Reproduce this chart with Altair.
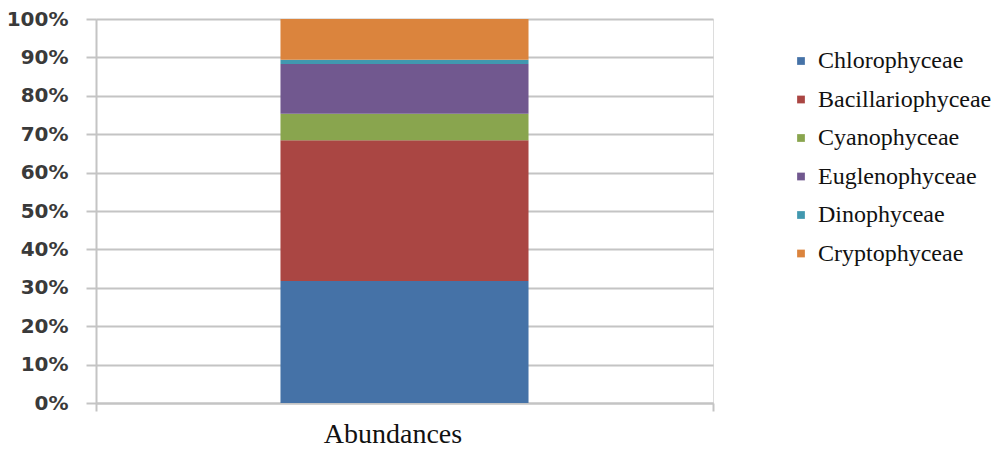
import altair as alt
import pandas as pd

# Relative abundance (%) of each algal class
classes = ["Chlorophyceae", "Bacillariophyceae", "Cyanophyceae",
           "Euglenophyceae", "Dinophyceae", "Cryptophyceae"]
shares = [31.8, 36.6, 6.9, 13.0, 1.1, 10.6]
colors = ["#4572A7", "#AA4643", "#89A54E", "#71588F", "#4198AF", "#DB843D"]
category = ["Abundances"]
y_ticks = [0, 10, 20, 30, 40, 50, 60, 70, 80, 90, 100]

df = pd.DataFrame({
    "group": category * len(classes),
    "cls": classes,
    "share": [v / 100 for v in shares],
    "rank": list(range(len(classes))),
})

grid = "#c4c4c4"
serif = "Liberation Serif"

chart = alt.Chart(df).mark_bar(width=alt.RelativeBandSize(0.402)).encode(
    x=alt.X("group:N", title=None,
            scale=alt.Scale(paddingInner=0, paddingOuter=0),
            axis=alt.Axis(labelAngle=0, labelFont=serif,
                          labelFontSize=28, labelColor="#111111",
                          labelPadding=9, labelOffset=-12,
                          tickBand="extent", tickSize=8, tickColor=grid,
                          tickWidth=2, domainColor=grid, domainWidth=2)),
    y=alt.Y("share:Q", stack="zero", title=None,
            scale=alt.Scale(domain=[0, 1], nice=False),
            axis=alt.Axis(values=[t / 100 for t in y_ticks], format=".0%",
                          labelFont="DejaVu Sans", labelFontWeight="bold",
                          labelFontSize=20, labelColor="#3a3a3a",
                          labelPadding=18, tickSize=10, tickColor=grid,
                          tickWidth=2, domainColor=grid, domainWidth=2,
                          grid=True, gridColor=grid, gridWidth=2)),
    color=alt.Color("cls:N",
                    scale=alt.Scale(domain=classes, range=colors),
                    legend=alt.Legend(title=None, orient="none",
                                      legendX=693, legendY=30,
                                      symbolType="square", symbolSize=60,
                                      symbolStrokeWidth=0,
                                      labelFont=serif, labelLimit=300,
                                      labelFontSize=24, labelColor="#111111",
                                      labelOffset=5, rowPadding=14.5,
                                      padding=0)),
    order=alt.Order("rank:Q", sort="ascending"),
).properties(
    width=617, height=384,
    autosize=alt.AutoSizeParams(type="none"),
    padding={"left": 96, "top": 19, "right": 279, "bottom": 47},
).configure_view(stroke=None).configure(background="white")

chart.save("out.html", embed_options={"renderer": "svg", "actions": False})
